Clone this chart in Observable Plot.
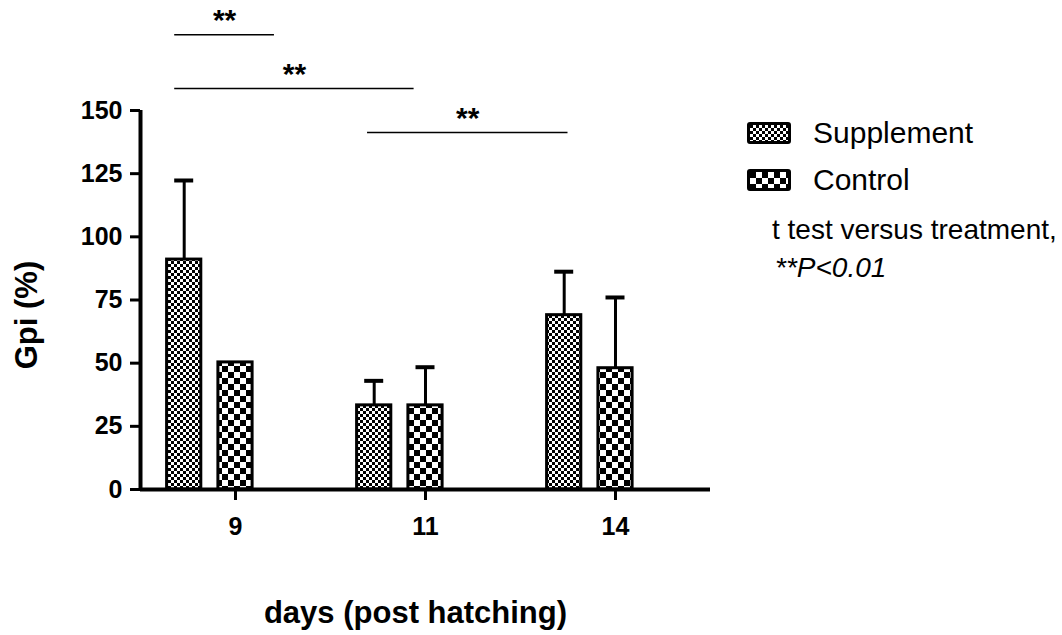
<!DOCTYPE html>
<html>
<head>
<meta charset="utf-8">
<script src="https://cdn.jsdelivr.net/npm/d3@7"></script>
<script src="https://cdn.jsdelivr.net/npm/@observablehq/plot@0.6"></script>
<style>
  html, body { margin: 0; padding: 0; background: #fff; }
  #wrap { position: relative; width: 1062px; height: 635px; font-family: "Liberation Sans", Arial, sans-serif; }
  .leg { position: absolute; font-size: 28px; line-height: 32px; color: #000; white-space: nowrap; }
  .sw { position: absolute; width: 38px; height: 16px; border: 3px solid #000; border-radius: 3px; }
</style>
</head>
<body>
<div id="wrap"></div>
<script>
// ---- data ----
const days = ["9", "11", "14"];
const supplementMean = [91, 33.3, 69];
const supplementSD = [31.3, 9.7, 17.2];
const controlMean = [50.3, 33.3, 48];
const controlSD = [0, 15.1, 28];
const yTicks = [0, 25, 50, 75, 100, 125, 150];
// significance brackets: [from group pos, to group pos, height in y units, label]
const bracketFrom = [-0.32, -0.32, 0.695];
const bracketTo = [0.205, 0.94, 1.75];
const bracketY = [180, 158.7, 141.3];
const bracketLabel = ["**", "**", "**"];

const font = '"Liberation Sans", Arial, sans-serif';
const suppOffset = -0.27, ctrlOffset = 0, half = 0.09, cap = 0.05;

const rows = [];
days.forEach((d, i) => {
  rows.push({group: "Supplement", i, x: i + suppOffset, mean: supplementMean[i], sd: supplementSD[i]});
  rows.push({group: "Control", i, x: i + ctrlOffset, mean: controlMean[i], sd: controlSD[i]});
});
const errRows = rows.filter(r => r.sd > 0);
const brackets = bracketFrom.map((f, k) => ({x1: f, x2: bracketTo[k], y: bracketY[k], label: bracketLabel[k]}));

const chart = Plot.plot({
  width: 1062,
  height: 635,
  marginLeft: 140,
  marginRight: 352,
  marginTop: 110,
  marginBottom: 146,
  style: {fontFamily: font, background: "white", overflow: "visible"},
  x: {domain: [-0.5, 2.5], axis: null},
  y: {domain: [0, 150], axis: null},
  marks: [
    Plot.rectY(rows.filter(r => r.group === "Supplement"), {x1: d => d.x - half, x2: d => d.x + half, y1: 0, y2: "mean", fill: "url(#pSupp)", stroke: "black", strokeWidth: 3}),
    Plot.rectY(rows.filter(r => r.group === "Control"), {x1: d => d.x - half, x2: d => d.x + half, y1: 0, y2: "mean", fill: "url(#pCtrl)", stroke: "black", strokeWidth: 3}),
    Plot.ruleX(errRows, {x: "x", y1: "mean", y2: d => d.mean + d.sd, stroke: "black", strokeWidth: 3}),
    Plot.ruleY(errRows, {y: d => d.mean + d.sd, x1: d => d.x - cap, x2: d => d.x + cap, stroke: "black", strokeWidth: 4}),
    // axes lines
    Plot.ruleX([-0.5], {y1: 0, y2: 150, stroke: "black", strokeWidth: 4}),
    Plot.ruleY([0], {x1: -0.5, x2: 2.5, stroke: "black", strokeWidth: 4}),
    Plot.axisY(yTicks, {ticks: yTicks, tickSize: 10, strokeWidth: 3, tickPadding: 8, fontSize: 25, fontWeight: "bold", label: null, fill: "black"}),
    Plot.axisX([0, 1, 2], {ticks: [0, 1, 2], tickFormat: i => days[i], tickSize: 11, strokeWidth: 3, tickPadding: 17, fontSize: 25, fontWeight: "bold", label: null, fill: "black"}),
    // brackets
    Plot.ruleY(brackets, {y: "y", x1: "x1", x2: "x2", stroke: "black", strokeWidth: 1.5}),
    Plot.text(brackets, {x: d => (d.x1 + d.x2) / 2, y: "y", text: "label", dy: -14, fontSize: 30, fontWeight: "bold", fill: "black"}),
    // titles
    Plot.text(["days (post hatching)"], {frameAnchor: "bottom", lineAnchor: "middle", textAnchor: "middle", dx: -10, dy: 124, fontSize: 31, fontWeight: "bold", fill: "black"}),
    Plot.text(["Gpi (%)"], {frameAnchor: "left", lineAnchor: "middle", textAnchor: "middle", rotate: -90, dx: -113, dy: 15, fontSize: 31, fontWeight: "bold", fill: "black", letterSpacing: 2})
  ]
});

const svg = d3.select(chart);
const defs = svg.insert("defs", ":first-child");
function checker(id, s) {
  const p = defs.append("pattern").attr("id", id).attr("patternUnits", "userSpaceOnUse").attr("width", 2 * s).attr("height", 2 * s);
  p.append("rect").attr("width", 2 * s).attr("height", 2 * s).attr("fill", "white");
  p.append("rect").attr("width", s).attr("height", s).attr("fill", "black");
  p.append("rect").attr("x", s).attr("y", s).attr("width", s).attr("height", s).attr("fill", "black");
}
checker("pSupp", 3);
checker("pCtrl", 6);

const wrap = document.getElementById("wrap");
wrap.appendChild(chart);

// legend
const legendNames = ["Supplement", "Control"];
const legendFills = ["pSupp", "pCtrl"];
const legendY = [133, 180];
legendNames.forEach((name, k) => {
  const sw = document.createElement("div");
  sw.className = "sw";
  sw.style.left = "747px";
  sw.style.top = (legendY[k] - 11) + "px";
  sw.innerHTML = `<svg width="38" height="16" style="display:block"><rect width="38" height="16" fill="url(#${legendFills[k]})"/></svg>`;
  wrap.appendChild(sw);
  const t = document.createElement("div");
  t.className = "leg";
  t.style.left = "813px";
  t.style.top = (legendY[k] - 17) + "px";
  t.style.fontSize = "30px";
  t.style.lineHeight = "34px";
  t.textContent = name;
  wrap.appendChild(t);
});
const n1 = document.createElement("div");
n1.className = "leg"; n1.style.left = "772px"; n1.style.top = (230 - 16) + "px";
n1.textContent = "t test versus treatment,";
wrap.appendChild(n1);
const n2 = document.createElement("div");
n2.className = "leg"; n2.style.left = "775px"; n2.style.top = (268 - 16) + "px"; n2.style.fontStyle = "italic";
n2.textContent = "**P<0.01";
wrap.appendChild(n2);
</script>
</body>
</html>
